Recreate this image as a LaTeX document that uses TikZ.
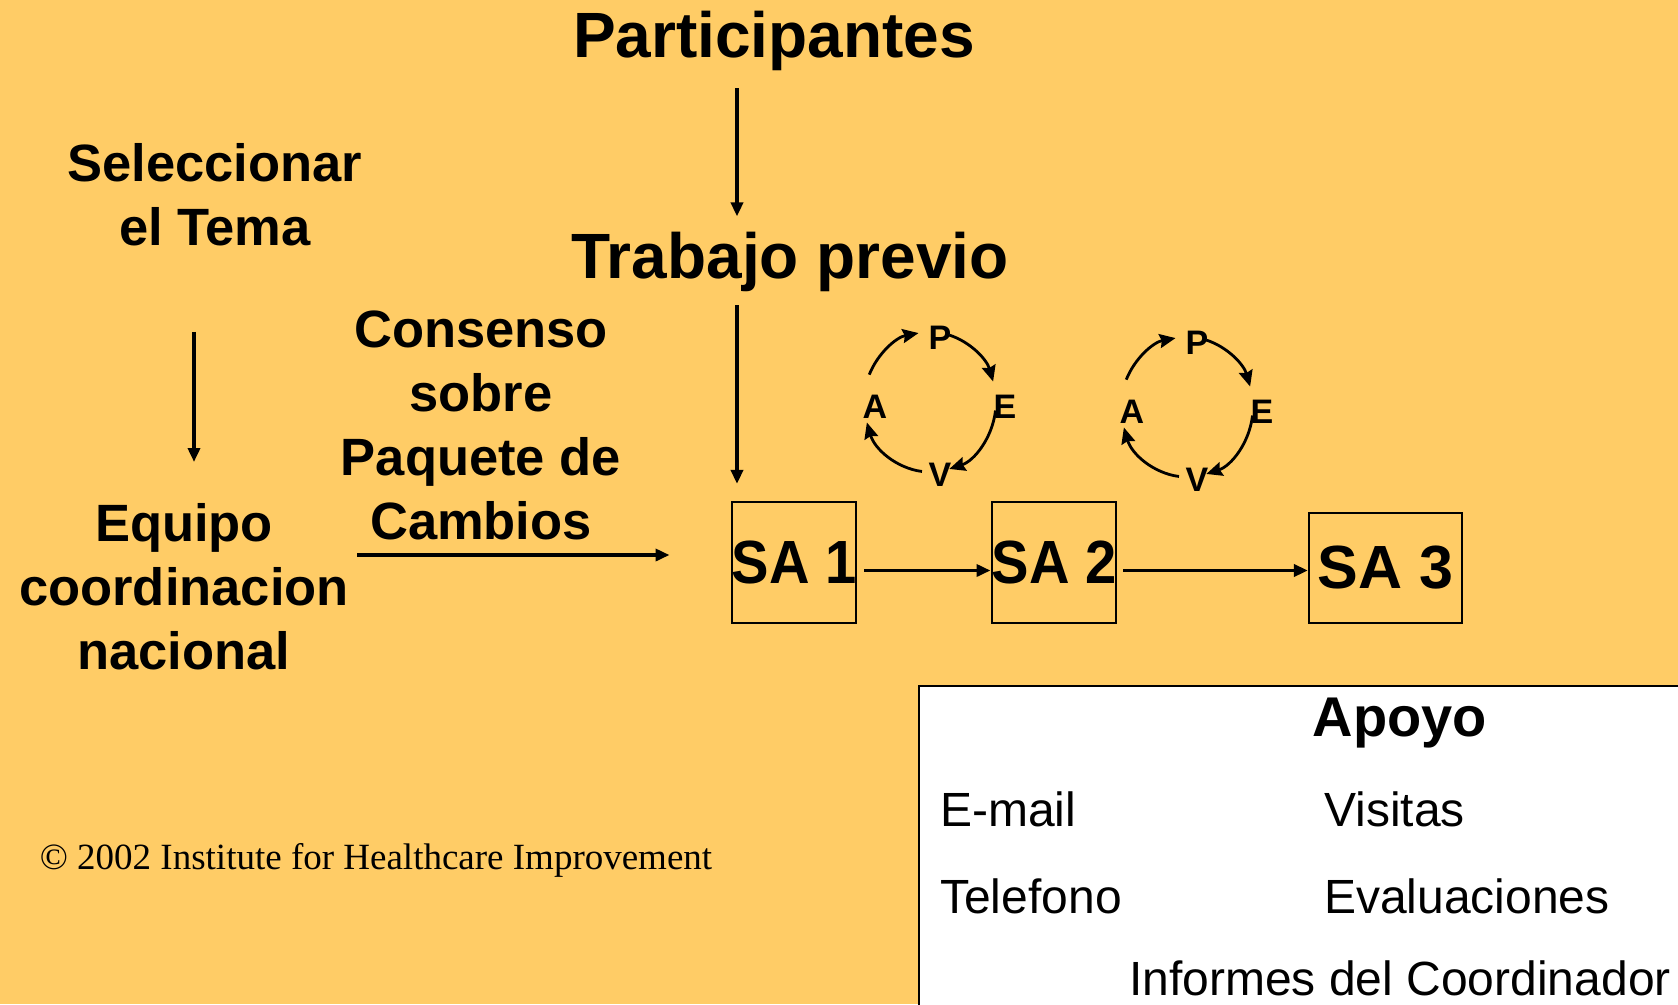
\documentclass[tikz,border=0pt]{standalone}
\usepackage{fontspec}
\usepackage{graphicx}
\setmainfont{Liberation Sans}
\newfontfamily\timesfont{Liberation Serif}
\usetikzlibrary{arrows.meta}
\definecolor{bg}{RGB}{255,204,102}
\begin{document}
\begin{tikzpicture}[x=1pt,y=-1pt,
  lbl/.style={font=\bfseries\fontsize{52.5}{64}\selectfont, align=center, inner sep=0pt, anchor=north},
  big/.style={font=\bfseries\fontsize{64}{70}\selectfont, inner sep=0pt, anchor=base},
  sabox/.style={draw, line width=2.2pt, inner sep=0pt, font=\bfseries\fontsize{61}{61}\selectfont},
  pdsa/.style={font=\bfseries\fontsize{34}{34}\selectfont, inner sep=0pt},
  flow/.style={line width=3.6pt, -{Triangle[length=14pt,width=12pt]}},
  cyc/.style={line width=2.8pt, -{Stealth[length=16pt,width=14pt,inset=2pt]}},
  plain/.style={font=\fontsize{48}{48}\selectfont, inner sep=0pt, anchor=base west}]
\fill[bg] (0,0) rectangle (1678,1004);
\useasboundingbox (0,0) rectangle (1678,1004);
\clip (0,0) rectangle (1678,1004);

% titles
\node[big] (part) at (774,57) {Participantes};
\node[big] (trab) at (790,278) {Trabajo previo};

\node[lbl] (sel) at (215,143) {Seleccionar\\el Tema};
\node[lbl] (equipo) at (184,503) {Equipo\\coordinacion\\nacional};
\node[lbl] (cons) at (481,311) {Consenso\\sobre\\Paquete de\\Cambios};

% SA boxes
\node[sabox, minimum width=124pt, minimum height=121pt] (sa1) at (794,562.5) {\scalebox{0.92}[1]{SA 1}};
\node[sabox, minimum width=124pt, minimum height=121pt] (sa2) at (1054,562.5) {\scalebox{0.92}[1]{SA 2}};
\node[sabox, minimum width=153pt, minimum height=110pt] (sa3) at (1385.5,568) {SA 3};

% helper coordinates
\coordinate (vx) at (737,0);
\coordinate (hx) at (194,0);
\coordinate (hy) at (0,555);

% arrows
\draw[flow, shorten <=18pt, shorten >=15pt] (part.south -| vx) -- (trab.north -| vx);
\draw[flow, shorten <=14pt, shorten >=17pt] (trab.south -| vx) -- (sa1.north -| vx);
\draw[flow, shorten <=86pt, shorten >=41pt] (sel.south -| hx) -- (equipo.north -| hx);
\draw[flow, shorten <=8pt, shorten >=61pt] (equipo.east |- hy) -- (sa1.west |- hy);
\draw[flow, shorten <=7pt] ([yshift=-8pt]sa1.east) -- ([yshift=-8pt]sa2.west);
\draw[flow, shorten <=6pt] ([yshift=-8pt]sa2.east) -- (sa3.west |- 0,570.5);

% PDSA cycle 1
\coordinate (c1) at (930,402);
\node[pdsa] (p1) at (940,338) {P};
\node[pdsa] (e1) at (1005,407) {E};
\node[pdsa] (v1) at (940,475) {V};
\node[pdsa] (a1) at (875,407) {A};
\draw[cyc] (c1) ++(-157:66 and 70) arc[start angle=-157, end angle=-100, x radius=66, y radius=70];
\draw[cyc] (c1) ++(-73:66 and 70) arc[start angle=-73, end angle=-17, x radius=66, y radius=70];
\draw[cyc] (c1) ++(7:66 and 70) arc[start angle=7, end angle=73, x radius=66, y radius=70];
\draw[cyc] (c1) ++(97:66 and 70) arc[start angle=97, end angle=163, x radius=66, y radius=70];

% PDSA cycle 2
\coordinate (c2) at (1187,407);
\node[pdsa] (p2) at (1197,343) {P};
\node[pdsa] (e2) at (1262,412) {E};
\node[pdsa] (v2) at (1197,480) {V};
\node[pdsa] (a2) at (1132,412) {A};
\draw[cyc] (c2) ++(-157:66 and 70) arc[start angle=-157, end angle=-100, x radius=66, y radius=70];
\draw[cyc] (c2) ++(-73:66 and 70) arc[start angle=-73, end angle=-17, x radius=66, y radius=70];
\draw[cyc] (c2) ++(7:66 and 70) arc[start angle=7, end angle=73, x radius=66, y radius=70];
\draw[cyc] (c2) ++(97:66 and 70) arc[start angle=97, end angle=163, x radius=66, y radius=70];

% copyright
\node[font=\timesfont\fontsize{37}{37}\selectfont, anchor=base, inner sep=0pt] (copy) at (376,869) {© 2002 Institute for Healthcare Improvement};

% Apoyo box
\draw[line width=2.5pt, fill=white] (919,686) rectangle (1700,1030);
\node[font=\bfseries\fontsize{56}{56}\selectfont, anchor=base, inner sep=0pt] (apoyo) at (1400,736) {Apoyo};
\node[plain] (email) at (940,826) {E-mail};
\node[plain] (visitas) at (1324,826) {Visitas};
\node[plain] (tel) at (940,913) {Telefono};
\node[plain] (eval) at (1324,913) {Evaluaciones};
\node[plain] (inf) at (1129,995) {Informes del Coordinador};
\end{tikzpicture}
\end{document}
